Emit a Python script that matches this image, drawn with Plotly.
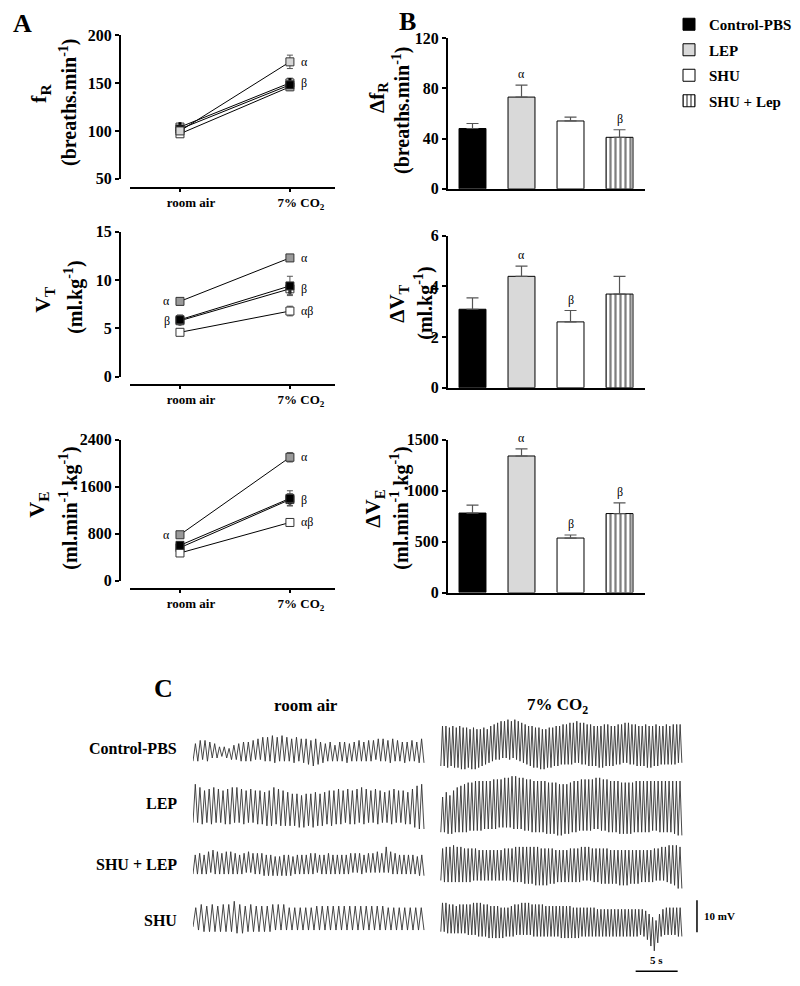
import plotly.graph_objects as go

# ---------------- data ----------------
groups = ["Control-PBS", "LEP", "SHU", "SHU + Lep"]
conditions = ["room air", "7% CO<sub>2</sub>"]

# Panel A: absolute values (mean, SEM) at room air and 7% CO2
fr_air = [102, 100, 97, 104]
fr_air_err = [3, 3, 2, 3]
fr_co2 = [148, 172, 146, 150]
fr_co2_err = [4, 7, 4, 5]
fr_air_sig = ["", "", "", ""]
fr_co2_sig = ["", "α", "", "β"]

vt_air = [5.9, 7.8, 4.6, 5.8]
vt_air_err = [0.5, 0.3, 0.2, 0.4]
vt_co2 = [9.4, 12.3, 6.8, 9.1]
vt_co2_err = [1.0, 0.3, 0.5, 0.6]
vt_air_sig = ["", "α", "", "β"]
vt_co2_sig = ["", "α", "αβ", "β"]

ve_air = [600, 780, 470, 560]
ve_air_err = [60, 40, 30, 50]
ve_co2 = [1400, 2100, 990, 1380]
ve_co2_err = [130, 80, 50, 100]
ve_air_sig = ["", "α", "", ""]
ve_co2_sig = ["", "α", "αβ", "β"]

# Panel B: deltas (mean, SEM)
dfr = [48, 73, 54, 41]
dfr_err = [4, 9.5, 3, 6]
dfr_sig = ["", "α", "", "β"]
dvt = [3.1, 4.4, 2.6, 3.7]
dvt_err = [0.45, 0.4, 0.45, 0.7]
dvt_sig = ["", "α", "β", ""]
dve = [780, 1340, 535, 775]
dve_err = [78, 70, 30, 105]
dve_sig = ["", "α", "β", "β"]

a_yticks = [[50, 100, 150, 200], [0, 5, 10, 15], [0, 800, 1600, 2400]]
b_yticks = [[0, 40, 80, 120], [0, 2, 4, 6], [0, 500, 1000, 1500]]

# Panel C: representative traces, per-breath peak / trough (mV about row baseline)
c_rows = ["Control-PBS", "LEP", "SHU + LEP", "SHU"]
ctrl_air_peak = [1.5,2.5,2.5,2,1.5,0.5,0.5,0,1,1.5,2,2,2.5,3,3.5,3.5,4,3.5,4,3.5,3,3.5,3,3,2.5,3,2,1.5,2,1,2,2,1.5,2,2.5,2,2.5,2.5,3,3,2.5,3,2.5,2,2,2.5,2,3]
ctrl_air_trough = [-4,-4,-3.5,-4,-3,-3,-2.5,-3,-3.5,-3.5,-4,-4,-4,-3.5,-3.5,-4,-4,-4.5,-4,-4,-4,-4.5,-4,-4.5,-5,-5.5,-5,-4.5,-4,-4,-4,-4,-4.5,-4,-4,-4,-4,-4,-3.5,-4,-4,-4.5,-4,-4,-4.5,-4,-4,-4.5]
ctrl_co2_peak = [7,7,6.5,7,6.5,7,6.5,6.5,6,6.5,6,6,6.5,6,7,7.5,8,8.5,8.5,9,8.5,9,8.5,8,7.5,7,7,6.5,6.5,6,6,6.5,6.5,7,7,7.5,7.5,8,8,8.5,8,8,7.5,7.5,7,7,7,7.5,7.5,7,7,7.5,7.5,8,8,7.5,7.5,7,7,7.5,7,7,7.5,7,7,7.5,7,7.5,7.5,7.5]
ctrl_co2_trough = [-5.5,-5.5,-6,-5.5,-6,-6,-6.5,-6.5,-6,-6.5,-6.5,-6,-5.5,-5,-4.5,-4,-3.5,-3.5,-3,-3,-3.5,-3,-3.5,-4,-4.5,-5,-5.5,-6,-6,-6.5,-6.5,-6,-6,-5.5,-5.5,-5,-5,-5,-5,-4.5,-4.5,-5,-5,-5.5,-5.5,-5.5,-6,-6,-5.5,-5.5,-5.5,-5,-5,-4.5,-4.5,-5,-5,-5.5,-5.5,-5.5,-6,-6,-5.5,-5.5,-5,-5,-5,-5,-5,-4.5]
lep_air_peak = [6,5,4,4.5,5,4.5,4,4.5,5,5,4.5,4,4.5,4,4,3.5,4,5,4.5,4,3.5,3,3,2.5,3,3,3.5,3,3.5,4,4,4.5,4,4.5,4,4.5,5,4.5,4,4.5,4,3.5,4,4.5,4,4,3.5,4.5,5.5,6]
lep_air_trough = [-6,-6,-6.5,-6,-6.5,-6,-6,-6.5,-6.5,-6,-6,-6.5,-6,-6,-6.5,-6.5,-7,-7,-6.5,-7,-7,-7,-7,-7.5,-7.5,-7,-7.5,-7,-7,-6.5,-7,-6.5,-6.5,-6,-6.5,-6.5,-6,-6.5,-6,-6,-6.5,-6,-6,-6.5,-6,-6,-6.5,-6.5,-7.5,-8]
lep_co2_peak = [2,3.5,2.5,4,5,5.5,6,6.5,6.5,7,7,7,7,7,7.5,7.5,7.5,8,8,8.5,8.5,8,8,7.5,7.5,7,7,7,7,6.5,6.5,6.5,6,6,6,6.5,7,7,7.5,7.5,7.5,7.5,8,8,7.5,7.5,7,7,7,6.5,6.5,6.5,6.5,7,7,7,7,7,7,7,7,7,7,7,7,7]
lep_co2_trough = [-9,-9,-9.5,-9.5,-9,-9,-9,-9,-8.5,-8.5,-8.5,-8.5,-8,-8,-8,-8,-7.5,-7.5,-7.5,-7.5,-8,-8,-8,-8.5,-8.5,-9,-9,-9,-9,-9.5,-9.5,-9.5,-10,-10,-9.5,-9.5,-9,-9,-8.5,-8.5,-8.5,-8.5,-8,-8,-8.5,-8.5,-9,-9,-9,-9.5,-9.5,-9.5,-9.5,-9,-9,-9,-9,-9,-8.5,-8.5,-9,-9,-9,-9,-9.5,-10]
sl_air_peak = [3,3.5,3,4,4.5,4,3.5,4,4,3.5,3,3.5,4,3.5,3.5,3.5,3,3,2.5,2.5,3,3,2.5,3,3,3,3.5,3.5,3,3,3.5,3,3,3,3,3.5,3.5,3.5,3,3.5,3.5,4,3.5,5.5,4,3.5,3,3,3,3,2.5,3]
sl_air_trough = [-3,-3,-3,-3,-2.5,-3,-3,-3,-3,-3,-3,-3,-2.5,-2.5,-3,-3,-3.5,-3.5,-3.5,-3.5,-3.5,-3.5,-3.5,-3,-3,-3,-3,-3,-2.5,-3,-3,-3,-3,-3,-3,-3,-2.5,-2.5,-3,-2.5,-2.5,-2.5,-2.5,-2.5,-2.5,-3,-3,-3,-3,-3,-3,-3.5]
sl_co2_peak = [5,5.5,5.5,6,5.5,5.5,5,5,5,5,4.5,4.5,4.5,4.5,4.5,4.5,4.5,5,5,5,5.5,5.5,5.5,5.5,5.5,5.5,5.5,5,5,5,5,4.5,4.5,4.5,4.5,5,5,5,5.5,5.5,5.5,5,5,5,5,5,4.5,4.5,4.5,4.5,4.5,4.5,4.5,4.5,4.5,4.5,4.5,4.5,5,5,5.5,5.5,6,6,6,5.5]
sl_co2_trough = [-5,-5.5,-5.5,-5.5,-5.5,-5.5,-5.5,-5.5,-5.5,-5,-5,-5,-5,-5,-5,-5,-5,-5,-5,-5,-5.5,-5.5,-5.5,-6,-6,-6,-6.5,-6.5,-6.5,-6.5,-6,-6,-5.5,-5.5,-5.5,-5.5,-5.5,-5.5,-5.5,-5,-5,-5,-5.5,-5.5,-6,-6,-6,-6,-6,-6.5,-6.5,-6.5,-6,-6,-6,-5.5,-5.5,-5.5,-5.5,-5,-5,-5,-5.5,-6,-6.5,-7.5]
shu_air_peak = [4,5,4.5,5,4.5,5,5,6,5,4.5,5,4.5,4.5,4.5,5,5,5,4,4,4,4,4,4.5,4.5,4.5,4.5,4.5,4.5,4.5,4.5,4.5,4.5,4.5,4.5,4.5,4,4,4,4,4,4,4]
shu_air_trough = [-2,-3,-3.5,-3.5,-3.5,-3.5,-3.5,-3.5,-4,-4,-3.5,-3.5,-3.5,-3.5,-3.5,-3,-3,-3,-3,-3,-3,-3,-3,-3,-3,-3,-3,-3,-3,-3,-3,-3,-3,-3,-3,-3,-3,-3,-3,-3,-3,-3]
shu_co2_peak = [5.5,5.5,5,5,4.5,5,5,5,5,5.5,5.5,5.5,5,5,4.5,4.5,4.5,4,4,4,4.5,5,5,5.5,5.5,5.5,5,5,5,5,4.5,4.5,4.5,4.5,4.5,4.5,4.5,4.5,4,4,4,4,4,4,4,3.5,3.5,3.5,3.5,3.5,3.5,3.5,3.5,3.5,3.5,3.5,3.5,3.5,3.5,3,2,1,0,2,3.5,4,4,4,4,4]
shu_co2_trough = [-3.5,-3.5,-4,-4,-4,-4,-4,-4,-4.5,-4.5,-4.5,-5,-5,-5,-5.5,-5.5,-5.5,-5.5,-5.5,-5,-5,-5,-4.5,-4.5,-4.5,-4.5,-4.5,-5,-5,-5,-5,-5,-5,-5,-5,-5.5,-5.5,-5.5,-5.5,-5.5,-5.5,-5,-5,-5,-5,-5,-5,-5,-5,-5,-5,-5,-5,-5,-5,-5,-5,-5,-4.5,-5,-6,-8,-9.5,-7,-5,-4.5,-4.5,-4.5,-4.5,-5]
scale_mv = 10
scale_s = 5

# ---------------- layout helpers ----------------
W, H = 800, 986
FONT = "Liberation Serif"
# the page is shown with an offset; these map target pixels to paper coords
OFF_X, OFF_Y, SCALE_Y = 8.0, 15.0, 0.9835


def px(x):
    return (x - OFF_X) / W


def py(y):
    return 1 - (y - OFF_Y) / (SCALE_Y * H)


def bold(size):
    return dict(family=FONT, size=size, color="black", weight="bold")


fig = go.Figure()
annotations = []
layout_axes = {}

# ---------------- Panel A ----------------
a_rows = [
    (fr_air, fr_air_err, fr_co2, fr_co2_err, fr_air_sig, fr_co2_sig),
    (vt_air, vt_air_err, vt_co2, vt_co2_err, vt_air_sig, vt_co2_sig),
    (ve_air, ve_air_err, ve_co2, ve_co2_err, ve_air_sig, ve_co2_sig),
]
a_geom = [(34, 178, 187), (231, 376, 384), (439, 580, 588)]
lep_fill = ["#d6d6d6", "#9a9a9a", "#9a9a9a"]
draw_order = [3, 2, 0, 1]

for r, (air, air_e, co2, co2_e, s_air, s_co2) in enumerate(a_rows):
    xa, ya = f"x{r + 1}", f"y{r + 1}"
    fills = ["black", lep_fill[r], "white", "white"]
    for g in draw_order:
        fig.add_trace(go.Scatter(
            x=conditions, y=[air[g], co2[g]], xaxis=xa, yaxis=ya,
            mode="lines+markers", showlegend=False, name=groups[g],
            line=dict(color="black", width=1),
            marker=dict(symbol="square", size=8, color=fills[g],
                        line=dict(color="#333", width=1)),
            error_y=dict(type="data", array=[air_e[g], co2_e[g]],
                         color="#555", thickness=1, width=3),
        ))
        if g == 3:
            fig.add_trace(go.Scatter(
                x=conditions, y=[air[g], co2[g]], xaxis=xa, yaxis=ya,
                mode="markers", showlegend=False, hoverinfo="skip",
                marker=dict(symbol="line-ns-open", size=7, color="black",
                            line=dict(color="black", width=3)),
            ))
        if s_air[g]:
            annotations.append(dict(x=conditions[0], y=air[g], xref=xa, yref=ya,
                                    text=s_air[g], showarrow=False, xanchor="right",
                                    yanchor="middle", xshift=-8,
                                    font=dict(family=FONT, size=12, color="black")))
        if s_co2[g]:
            annotations.append(dict(x=conditions[1], y=co2[g], xref=xa, yref=ya,
                                    text=s_co2[g], showarrow=False, xanchor="left",
                                    yanchor="middle", xshift=9,
                                    font=dict(family=FONT, size=12, color="black")))
    top, bot, axis_y = a_geom[r]
    ticks = a_yticks[r]
    layout_axes[f"xaxis{r + 1}" if r else "xaxis"] = dict(
        domain=[px(130), px(335)], anchor="free", position=py(axis_y),
        type="category", range=[-0.4545, 1.41], showgrid=False, zeroline=False,
        showline=True, linecolor="black", linewidth=2,
        ticks="outside", ticklen=3, tickwidth=1.5, tickcolor="black",
        tickfont=bold(13), ticklabelshift=11,
    )
    layout_axes[f"yaxis{r + 1}" if r else "yaxis"] = dict(
        domain=[py(bot), py(top)], anchor="free", position=px(120),
        range=[ticks[0], ticks[-1]], tickvals=ticks, showgrid=False, zeroline=False,
        showline=True, linecolor="black", linewidth=2,
        ticks="outside", ticklen=4, tickwidth=2, tickcolor="black",
        tickfont=bold(16),
    )

# ---------------- Panel B ----------------
b_rows = [(dfr, dfr_err, dfr_sig), (dvt, dvt_err, dvt_sig), (dve, dve_err, dve_sig)]
b_geom = [(37, 188), (235, 387), (439, 592)]
bar_fill = ["black", "#d9d9d9", "white", "white"]
bar_pattern = ["", "", "", "|"]

for r, (vals, errs, sigs) in enumerate(b_rows):
    n = r + 4
    xa, ya = f"x{n}", f"y{n}"
    for g in range(4):
        fig.add_trace(go.Bar(
            x=[groups[g]], y=[vals[g]], xaxis=xa, yaxis=ya, width=0.55,
            name=groups[g], legendgroup=groups[g], showlegend=(r == 0),
            marker=dict(color=bar_fill[g], line=dict(color="black", width=1),
                        pattern=dict(shape=bar_pattern[g], fgcolor="black",
                                     bgcolor="white", size=5, solidity=0.45)),
            error_y=dict(type="data", array=[errs[g]], arrayminus=[0], symmetric=False,
                         color="#555", thickness=1.2, width=6),
        ))
        if sigs[g]:
            annotations.append(dict(x=groups[g], y=vals[g] + errs[g], xref=xa, yref=ya,
                                    text=sigs[g], showarrow=False, yanchor="bottom",
                                    yshift=2, font=dict(family=FONT, size=12, color="black")))
    top, bot = b_geom[r]
    ticks = b_yticks[r]
    layout_axes[f"xaxis{n}"] = dict(
        domain=[px(448), px(645)], anchor=ya, type="category", range=[-0.5, 3.52],
        showgrid=False, zeroline=False, showline=True, linecolor="black", linewidth=2,
        showticklabels=False, ticks="",
    )
    layout_axes[f"yaxis{n}"] = dict(
        domain=[py(bot), py(top)], anchor=xa, range=[ticks[0], ticks[-1]], tickvals=ticks,
        showgrid=False, zeroline=False, showline=True, linecolor="black", linewidth=2,
        ticks="outside", ticklen=4, tickwidth=2, tickcolor="black", tickfont=bold(16),
    )

# ---------------- Panel C ----------------
air_t = (0.0, 27.5)
co2_t = (29.5, 58.2)
row_base = [64.7, 47.5, 28.4, 10.9]
c_data = [
    (ctrl_air_peak, ctrl_air_trough, ctrl_co2_peak, ctrl_co2_trough),
    (lep_air_peak, lep_air_trough, lep_co2_peak, lep_co2_trough),
    (sl_air_peak, sl_air_trough, sl_co2_peak, sl_co2_trough),
    (shu_air_peak, shu_air_trough, shu_co2_peak, shu_co2_trough),
]


def wave(t0, t1, pk, tr, base):
    n = min(len(pk), len(tr))
    step = (t1 - t0) / (2 * n)
    xs, ys = [], []
    for i in range(n):
        xs += [t0 + 2 * i * step, t0 + (2 * i + 1) * step]
        ys += [base + tr[i], base + pk[i]]
    xs.append(t1)
    ys.append(base + tr[n - 1])
    return xs, ys


for k, (ap, at, cp, ct) in enumerate(c_data):
    for (t0, t1), pk, tr in ((air_t, ap, at), (co2_t, cp, ct)):
        xs, ys = wave(t0, t1, pk, tr, row_base[k])
        fig.add_trace(go.Scatter(x=xs, y=ys, xaxis="x7", yaxis="y7", mode="lines",
                                 showlegend=False, line=dict(color="#333", width=0.9)))
    annotations.append(dict(x=px(179), y=row_base[k], xref="paper", yref="y7",
                            text=c_rows[k], showarrow=False, xanchor="right",
                            yanchor="middle", font=bold(16)))

# scale bars
bar_x = 60.0
bar_y0 = 7.2
fig.add_trace(go.Scatter(x=[bar_x, bar_x], y=[bar_y0, bar_y0 + scale_mv], xaxis="x7", yaxis="y7",
                         mode="lines", showlegend=False, line=dict(color="black", width=1.5)))
annotations.append(dict(x=bar_x, y=bar_y0 + scale_mv / 2, xref="x7", yref="y7", text="10 mV",
                        showarrow=False, xanchor="left", yanchor="middle", xshift=5,
                        font=bold(11)))
sb_x0, sb_y = 52.7, -5.0
fig.add_trace(go.Scatter(x=[sb_x0, sb_x0 + scale_s], y=[sb_y, sb_y], xaxis="x7", yaxis="y7",
                         mode="lines", showlegend=False, line=dict(color="black", width=1.5)))
annotations.append(dict(x=sb_x0 + scale_s / 2, y=sb_y, xref="x7", yref="y7", text="5 s",
                        showarrow=False, yanchor="bottom", yshift=3, font=bold(11)))

annotations.append(dict(x=sum(air_t) / 2, y=py(705), xref="x7", yref="paper", text="room air",
                        showarrow=False, yanchor="middle", xshift=-2, font=bold(17)))
annotations.append(dict(x=sum(co2_t) / 2, y=py(706), xref="x7", yref="paper",
                        text="7% CO<sub>2</sub>", showarrow=False, yanchor="middle",
                        xshift=-4, font=bold(17)))

layout_axes["xaxis7"] = dict(domain=[px(193), px(700)], anchor="y7", range=[0, 60.36],
                             visible=False)
layout_axes["yaxis7"] = dict(domain=[py(980), py(715)], anchor="x7", range=[-7.8, 75],
                             visible=False)

# ---------------- titles & panel letters ----------------
titles = [
    ("f<sub>R</sub>", 40, 93, 22), ("(breaths.min<sup>-1</sup>)", 69, 102, 20),
    ("V<sub>T</sub>", 44, 299, 22), ("(ml.kg<sup>-1</sup>)", 74, 297, 20),
    ("V<sub>E</sub>", 38, 504, 22), ("(ml.min<sup>-1</sup>.kg<sup>-1</sup>)", 69, 508, 20),
    ("Δf<sub>R</sub>", 378, 97, 21), ("(breaths.min<sup>-1</sup>)", 402, 110, 20),
    ("ΔV<sub>T</sub>", 398, 303, 21), ("(ml.kg<sup>-1</sup>)", 424, 303, 20),
    ("ΔV<sub>E</sub>", 374, 508, 21), ("(ml.min<sup>-1</sup>.kg<sup>-1</sup>)", 400, 508, 20),
]
for text, x, y, s in titles:
    annotations.append(dict(x=px(x), y=py(y), xref="paper", yref="paper", text=text,
                            textangle=-90, showarrow=False, xanchor="center",
                            yanchor="middle", font=bold(s)))

for text, x, y in (("A", 22, 23), ("B", 407, 21), ("C", 163, 688)):
    annotations.append(dict(x=px(x), y=py(y), xref="paper", yref="paper", text=text,
                            showarrow=False, xanchor="center", yanchor="middle",
                            font=bold(26)))

fig.update_layout(
    width=W, height=H, margin=dict(l=0, r=0, t=0, b=0),
    paper_bgcolor="white", plot_bgcolor="white",
    barmode="overlay", showlegend=True,
    legend=dict(x=px(669), y=py(7), xanchor="left", yanchor="top",
                font=bold(15), tracegroupgap=3, itemwidth=30,
                bgcolor="rgba(0,0,0,0)", traceorder="grouped"),
    annotations=annotations,
    **layout_axes,
)

fig.write_html("out.html")
